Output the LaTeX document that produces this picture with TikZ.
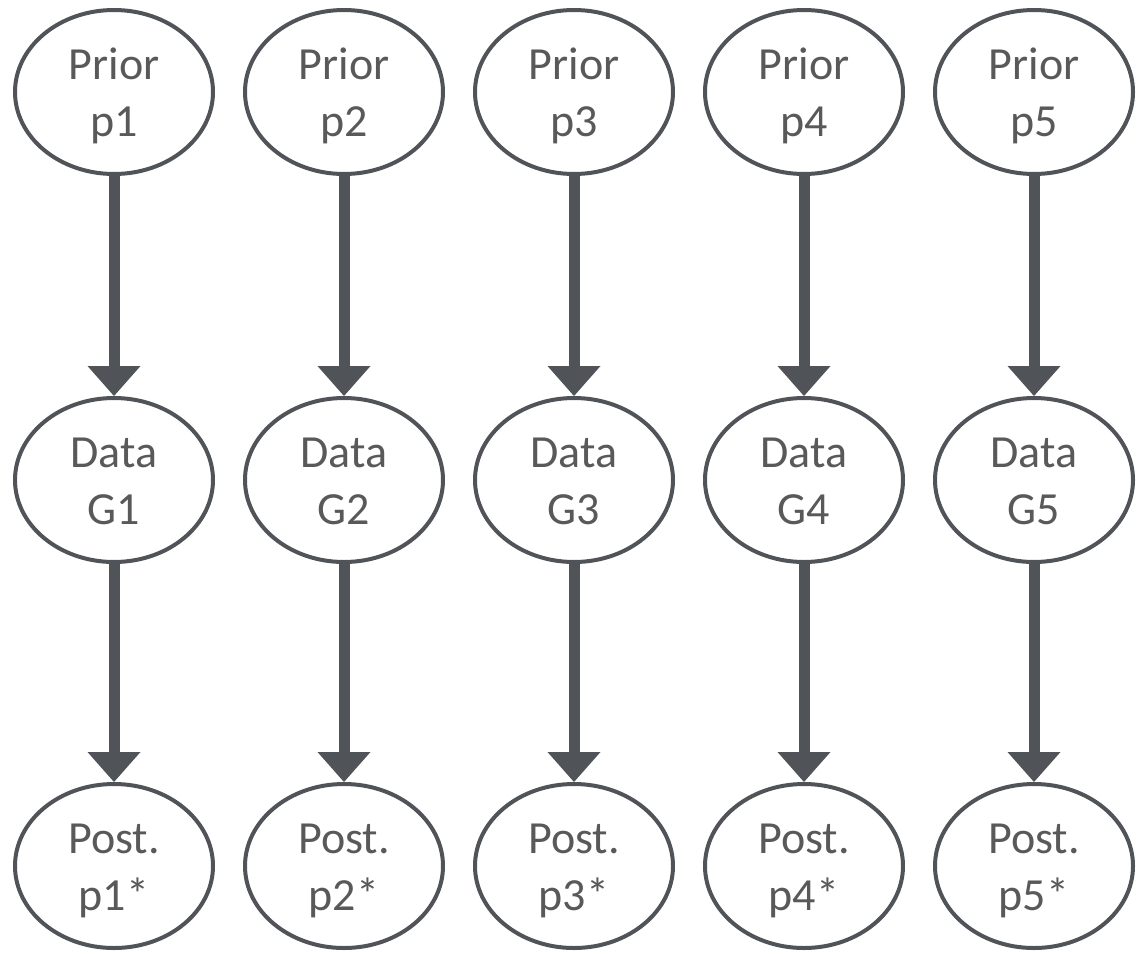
\documentclass[tikz,border=0pt]{standalone}
\usepackage{fontspec}
\setmainfont{Carlito}
\usetikzlibrary{arrows.meta,shapes.geometric}
\definecolor{edgegray}{RGB}{80,84,89}
\definecolor{textgray}{RGB}{89,89,89}
\newcommand{\twolines}[2]{\raisebox{-5pt}[\height][\depth]{\begin{tabular}{@{}c@{}}#1\\#2\end{tabular}}}
\begin{document}
\begin{tikzpicture}[x=1pt,y=1pt,
  blob/.style={ellipse, draw=edgegray, line width=4pt, fill=white,
    minimum width=198pt, minimum height=164pt, inner sep=0pt,
    text=textgray, font=\fontsize{46}{57}\selectfont},
  flow/.style={draw=edgegray, line width=11pt,
    -{Triangle[width=53pt,length=30pt,line width=0pt]}}
]
\useasboundingbox (0,0) rectangle (1137,-953);
\foreach \i in {1,...,5}{
  \pgfmathsetmacro{\cx}{114+230*(\i-1)}
  \node[blob] (p\i) at (\cx,-92) {\twolines{Prior}{p\i}};
  \node[blob] (d\i) at (\cx,-480) {\twolines{Data}{G\i}};
  \node[blob] (q\i) at (\cx,-866) {\twolines{Post.}{p\i*}};
  \draw[flow] (p\i) -- (d\i);
  \draw[flow] (d\i) -- (q\i);
}
\end{tikzpicture}
\end{document}
